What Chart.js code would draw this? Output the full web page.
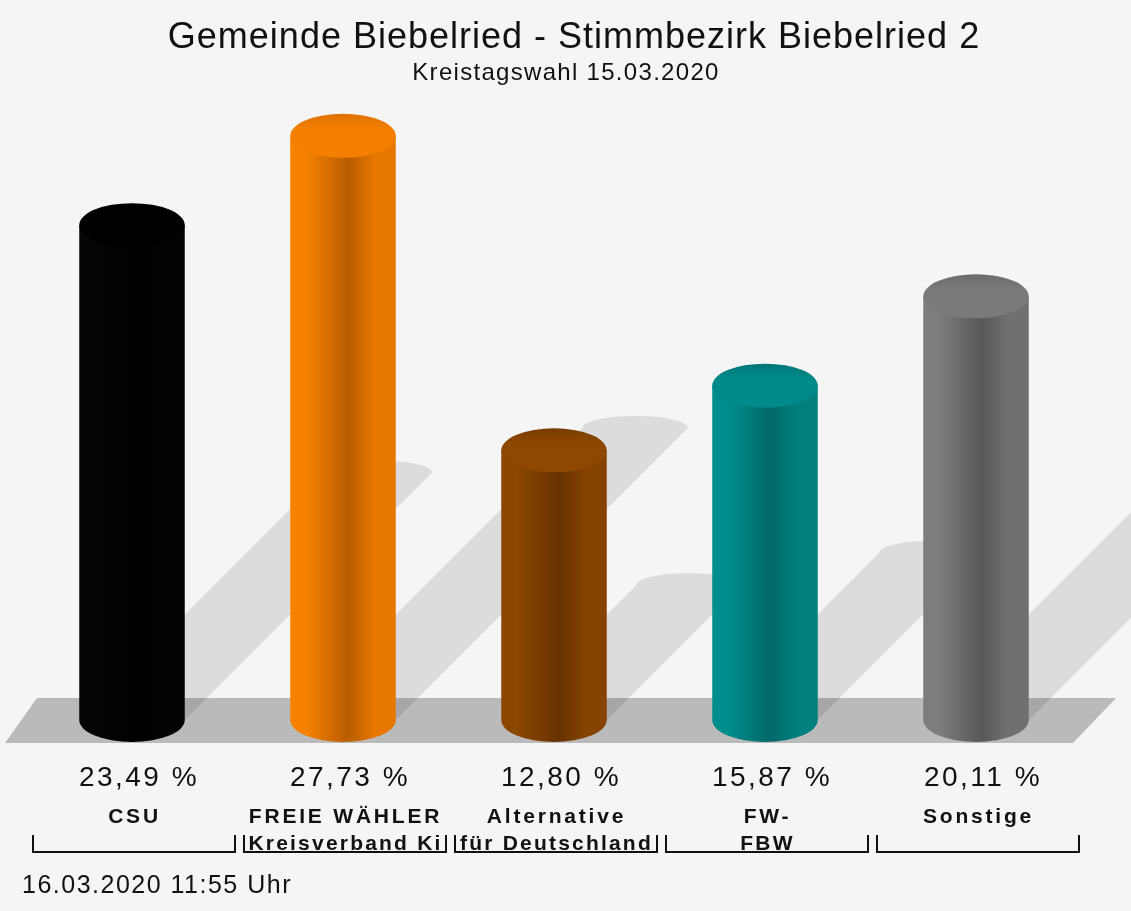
<!DOCTYPE html>
<html>
<head>
<meta charset="utf-8">
<script src="https://cdn.jsdelivr.net/npm/chart.js"></script>
<style>
  html, body { margin: 0; padding: 0; background: #f5f5f5; }
  #wrap { position: relative; width: 1131px; height: 911px; }
</style>
</head>
<body>
<div id="wrap"><canvas id="chart-wahl"></canvas></div>
<script>
const TITLE    = 'Gemeinde Biebelried - Stimmbezirk Biebelried 2';
const SUBTITLE = 'Kreistagswahl 15.03.2020';
const STAND    = '16.03.2020 11:55 Uhr';

const PARTIES = [
  ['CSU'],
  ['FREIE WÄHLER', 'Kreisverband Ki'],
  ['Alternative', 'für Deutschland'],
  ['FW-', 'FBW'],
  ['Sonstige'],
];
const SHARES = [23.49, 27.73, 12.80, 15.87, 20.11];

// light edge / dark band / right side / top face
const SHADES = [
  { light: '#050505', dark: '#000000', mid: '#030303', top: '#000000', rim: '#000000' },
  { light: '#f68200', dark: '#b95c00', mid: '#e87700', top: '#f47f00', rim: '#e07200' },
  { light: '#8b4600', dark: '#673200', mid: '#864300', top: '#8e4800', rim: '#793c00' },
  { light: '#008d8d', dark: '#006868', mid: '#007f7f', top: '#008a8a', rim: '#007777' },
  { light: '#7d7d7d', dark: '#585858', mid: '#707070', top: '#7a7a7a', rim: '#6c6c6c' },
];

const FONT = "'Liberation Sans', Arial, sans-serif";
const RY = 22; // half height of the cylinder ellipses

const cylinders = {
  id: 'cylinders',

  beforeDraw(chart) {
    const { ctx, width, height } = chart;
    ctx.save();
    ctx.fillStyle = '#f5f5f5';
    ctx.fillRect(0, 0, width, height);
    ctx.restore();
  },

  beforeDatasetsDraw(chart) {
    const { ctx, chartArea } = chart;
    const base = chart.scales.y.getPixelForValue(0);
    const bars = chart.getDatasetMeta(0).data;

    // floor
    ctx.save();
    ctx.fillStyle = '#bababa';
    ctx.beginPath();
    ctx.moveTo(chartArea.left + 10.5, base - RY);
    ctx.lineTo(chartArea.right + 34.5, base - RY);
    ctx.lineTo(chartArea.right - 8.5, base + 23);
    ctx.lineTo(chartArea.left - 21.5, base + 23);
    ctx.closePath();
    ctx.fill();

    // shadows falling up to the right
    ctx.fillStyle = 'rgba(0,0,0,0.1)';
    ctx.beginPath();
    bars.forEach(bar => {
      const { x, y, width } = bar.getProps(['x', 'y', 'width']);
      const l = x - width / 2, r = x + width / 2;
      const s = (base - y) * 0.5;
      ctx.moveTo(l, base);
      ctx.lineTo(r, base);
      ctx.lineTo(r + s, base - s);
      ctx.ellipse(x + s, base - s, width / 2, 12, 0, 0, Math.PI, true);
      ctx.closePath();
    });
    ctx.fill();
    ctx.restore();
  },

  afterDatasetsDraw(chart) {
    const { ctx } = chart;
    const base = chart.scales.y.getPixelForValue(0);
    chart.getDatasetMeta(0).data.forEach((bar, i) => {
      const { x, y, width } = bar.getProps(['x', 'y', 'width']);
      const c = SHADES[i];
      const l = x - width / 2, r = x + width / 2, rx = width / 2;

      ctx.save();
      const g = ctx.createLinearGradient(l, 0, r, 0);
      g.addColorStop(0, c.light);
      g.addColorStop(0.15, c.light);
      g.addColorStop(0.55, c.dark);
      g.addColorStop(0.8, c.mid);
      g.addColorStop(1, c.mid);
      ctx.fillStyle = g;
      ctx.beginPath();
      ctx.moveTo(l, y);
      ctx.lineTo(l, base);
      ctx.ellipse(x, base, rx, RY, 0, Math.PI, 0, true);
      ctx.lineTo(r, y);
      ctx.closePath();
      ctx.fill();

      const t = ctx.createLinearGradient(0, y - RY, 0, y + RY);
      t.addColorStop(0, c.rim);
      t.addColorStop(0.35, c.top);
      t.addColorStop(1, c.top);
      ctx.fillStyle = t;
      ctx.beginPath();
      ctx.ellipse(x, y, rx, RY, 0, 0, Math.PI * 2);
      ctx.fill();
      ctx.restore();
    });
  },

  afterDraw(chart) {
    const { ctx } = chart;
    const xs = chart.scales.x;
    ctx.save();
    ctx.fillStyle = '#111111';
    ctx.textAlign = 'center';
    ctx.textBaseline = 'alphabetic';

    ctx.font = `36px ${FONT}`;
    ctx.letterSpacing = '1px';
    ctx.fillText(TITLE, 574, 48);

    ctx.font = `24px ${FONT}`;
    ctx.letterSpacing = '1.3px';
    ctx.fillText(SUBTITLE, 566, 80);

    PARTIES.forEach((lines, i) => {
      const cx = xs.getPixelForValue(i);
      const half = 101;

      ctx.font = `28px ${FONT}`;
      ctx.letterSpacing = '2.5px';
      ctx.fillText(SHARES[i].toFixed(2).replace('.', ',') + ' %', cx + 7, 786);

      ctx.save();
      ctx.beginPath();
      ctx.rect(cx - half + 2, 790, half * 2, 70);
      ctx.clip();
      ctx.font = `bold 21px ${FONT}`;
      lines.forEach((txt, k) => {
        ctx.letterSpacing = k === 0 ? '2.8px' : '2.2px';
        ctx.fillText(txt, cx + 2.5, 823 + k * 27);
      });
      ctx.restore();

      ctx.strokeStyle = '#111111';
      ctx.lineWidth = 2;
      ctx.beginPath();
      ctx.moveTo(cx - half + 2, 835);
      ctx.lineTo(cx - half + 2, 852);
      ctx.lineTo(cx + half + 2, 852);
      ctx.lineTo(cx + half + 2, 835);
      ctx.stroke();
    });

    ctx.textAlign = 'left';
    ctx.font = `25px ${FONT}`;
    ctx.letterSpacing = '1.5px';
    ctx.fillText(STAND, 22, 893);
    ctx.restore();
  },
};

const ctx = document.getElementById('chart-wahl').getContext('2d');
new Chart(ctx, {
  type: 'bar',
  data: {
    labels: PARTIES,
    datasets: [{
      data: SHARES,
      backgroundColor: 'rgba(0,0,0,0)',
      borderWidth: 0,
      barPercentage: 0.5,
      categoryPercentage: 1,
    }],
  },
  options: {
    responsive: true,
    maintainAspectRatio: false,
    animation: false,
    layout: { padding: { left: 26.5, right: 49.5, top: 88, bottom: 191 } },
    plugins: { legend: { display: false }, tooltip: { enabled: false } },
    scales: {
      x: { display: false },
      y: { display: false, min: 0, max: 30 },
    },
  },
  plugins: [cylinders],
});
</script>
</body>
</html>
